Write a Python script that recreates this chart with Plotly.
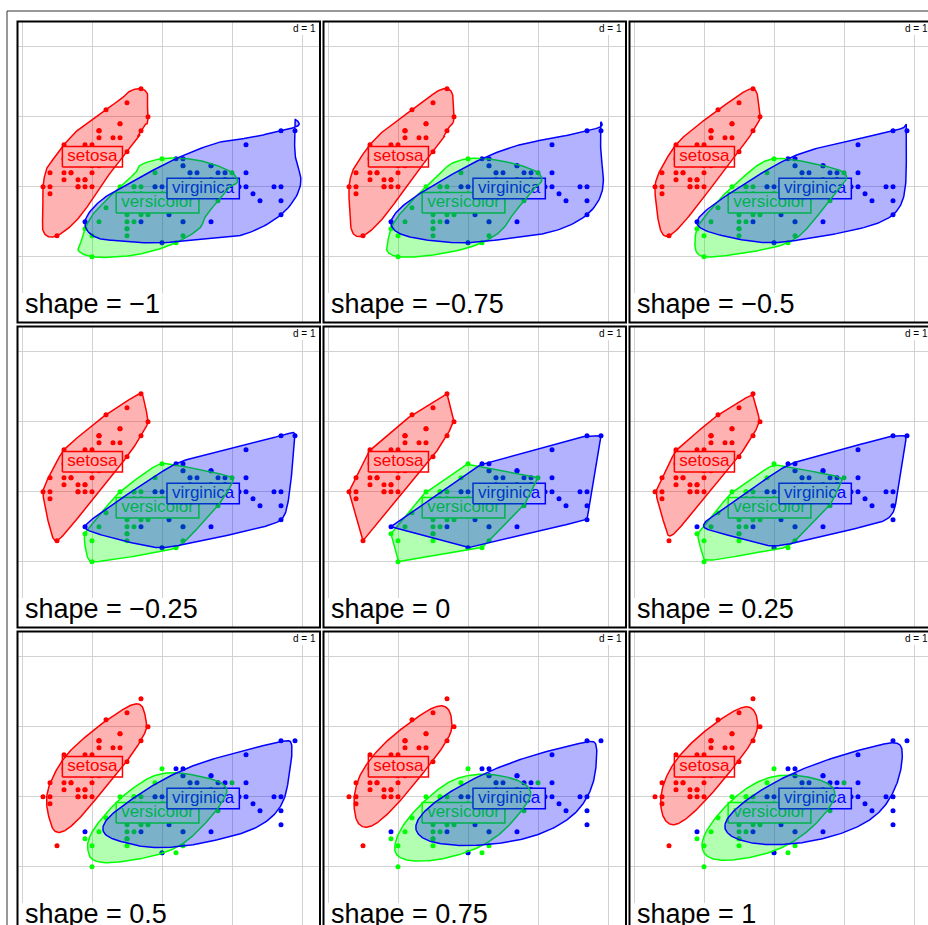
import numpy as np
import plotly.graph_objects as go

# ---------------- data (iris: Sepal.Length, Sepal.Width) ----------------
classes = ["setosa", "versicolor", "virginica"]

setosa_len = [5.1, 4.9, 4.7, 4.6, 5.0, 5.4, 4.6, 5.0, 4.4, 4.9, 5.4, 4.8, 4.8, 4.3, 5.8, 5.7, 5.4, 5.1, 5.7, 5.1,
              5.4, 5.1, 4.6, 5.1, 4.8, 5.0, 5.0, 5.2, 5.2, 4.7, 4.8, 5.4, 5.2, 5.5, 4.9, 5.0, 5.5, 4.9, 4.4, 5.1,
              5.0, 4.5, 4.4, 5.0, 5.1, 4.8, 5.1, 4.6, 5.3, 5.0]
setosa_wid = [3.5, 3.0, 3.2, 3.1, 3.6, 3.9, 3.4, 3.4, 2.9, 3.1, 3.7, 3.4, 3.0, 3.0, 4.0, 4.4, 3.9, 3.5, 3.8, 3.8,
              3.4, 3.7, 3.6, 3.3, 3.4, 3.0, 3.4, 3.5, 3.4, 3.2, 3.1, 3.4, 4.1, 4.2, 3.1, 3.2, 3.5, 3.6, 3.0, 3.4,
              3.5, 2.3, 3.2, 3.5, 3.8, 3.0, 3.8, 3.2, 3.7, 3.3]
versicolor_len = [7.0, 6.4, 6.9, 5.5, 6.5, 5.7, 6.3, 4.9, 6.6, 5.2, 5.0, 5.9, 6.0, 6.1, 5.6, 6.7, 5.6, 5.8, 6.2, 5.6,
                  5.9, 6.1, 6.3, 6.1, 6.4, 6.6, 6.8, 6.7, 6.0, 5.7, 5.5, 5.5, 5.8, 6.0, 5.4, 6.0, 6.7, 6.3, 5.6, 5.5,
                  5.5, 6.1, 5.8, 5.0, 5.6, 5.7, 5.7, 6.2, 5.1, 5.7]
versicolor_wid = [3.2, 3.2, 3.1, 2.3, 2.8, 2.8, 3.3, 2.4, 2.9, 2.7, 2.0, 3.0, 2.2, 2.9, 2.9, 3.1, 3.0, 2.7, 2.2, 2.5,
                  3.2, 2.8, 2.5, 2.8, 2.9, 3.0, 2.8, 3.0, 2.9, 2.6, 2.4, 2.4, 2.7, 2.7, 3.0, 3.4, 3.1, 2.3, 3.0, 2.5,
                  2.6, 3.0, 2.6, 2.3, 2.7, 3.0, 2.9, 2.9, 2.5, 2.8]
virginica_len = [6.3, 5.8, 7.1, 6.3, 6.5, 7.6, 4.9, 7.3, 6.7, 7.2, 6.5, 6.4, 6.8, 5.7, 5.8, 6.4, 6.5, 7.7, 7.7, 6.0,
                 6.9, 5.6, 7.7, 6.3, 6.7, 7.2, 6.2, 6.1, 6.4, 7.2, 7.4, 7.9, 6.4, 6.3, 6.1, 7.7, 6.3, 6.4, 6.0, 6.9,
                 6.7, 6.9, 5.8, 6.8, 6.7, 6.7, 6.3, 6.5, 6.2, 5.9]
virginica_wid = [3.3, 2.7, 3.0, 2.9, 3.0, 3.0, 2.5, 2.9, 2.5, 3.6, 3.2, 2.7, 3.0, 2.5, 2.8, 3.2, 3.0, 3.8, 2.6, 2.2,
                 3.2, 2.8, 2.8, 2.7, 3.3, 3.2, 2.8, 3.0, 2.8, 3.0, 2.8, 3.8, 2.8, 2.8, 2.6, 3.0, 3.4, 3.1, 3.0, 3.1,
                 3.1, 3.1, 2.7, 3.2, 3.3, 3.0, 2.5, 3.0, 3.4, 3.0]

shapes_values = [-1, -0.75, -0.5, -0.25, 0, 0.25, 0.5, 0.75, 1]
shape_labels = ["shape = \u22121", "shape = \u22120.75", "shape = \u22120.5",
                "shape = \u22120.25", "shape = 0", "shape = 0.25",
                "shape = 0.5", "shape = 0.75", "shape = 1"]

class_colors = ["#FF0000", "#00FF00", "#0000FF"]
fill_colors = ["rgba(255,0,0,0.3)", "rgba(0,255,0,0.3)", "rgba(0,0,255,0.3)"]

data_x = [setosa_len, versicolor_len, virginica_len]
data_y = [setosa_wid, versicolor_wid, virginica_wid]

# ---------------- geometry helpers ----------------
def convex_hull(xs, ys):
    pts = sorted(set(zip(xs, ys)))
    if len(pts) <= 2:
        return pts
    def cross(o, a, b):
        return (a[0]-o[0])*(b[1]-o[1]) - (a[1]-o[1])*(b[0]-o[0])
    lower = []
    for p in pts:
        while len(lower) >= 2 and cross(lower[-2], lower[-1], p) <= 0:
            lower.pop()
        lower.append(p)
    upper = []
    for p in reversed(pts):
        while len(upper) >= 2 and cross(upper[-2], upper[-1], p) <= 0:
            upper.pop()
        upper.append(p)
    return lower[:-1] + upper[:-1]

def f_blend(num, den):
    p = 2 * den * den
    u = num / den
    return u**3 * (10 - p + (2*p - 15)*u + (6 - p)*u*u)

def g_blend(u, q):
    return u*(q + u*(2*q + u*(10 - 12*q - 2 + u*(2*2 + 14*q - 15 + u*(6 - 5*q - 2)))))

def h_blend(u, q):
    return u*(q + u*(2*q + u*u*(-2*q - u*q)))

def xspline_closed(hx, hy, s, step=0.02):
    n = len(hx)
    ox, oy = [], []
    for k in range(n):
        idx = [(k-1) % n, k, (k+1) % n, (k+2) % n]
        P = [(hx[i], hy[i]) for i in idx]
        for t in np.arange(0.0, 1.0, step):
            if s < 0:
                q = -s
                A0 = h_blend(-t, q); A2 = g_blend(t, q)
                A1 = g_blend(1 - t, q); A3 = h_blend(t - 1, q)
            else:
                A0 = f_blend(t - s, -1 - s) if t < s else 0.0
                A2 = f_blend(t + s, 1 + s)
                A1 = f_blend(t - 1 - s, -1 - s)
                A3 = f_blend(t - 1 + s, 1 + s) if t > 1 - s else 0.0
            w = A0 + A1 + A2 + A3
            ox.append((A0*P[0][0] + A1*P[1][0] + A2*P[2][0] + A3*P[3][0]) / w)
            oy.append((A0*P[0][1] + A1*P[1][1] + A2*P[2][1] + A3*P[3][1]) / w)
    ox.append(ox[0]); oy.append(oy[0])
    return ox, oy

ARIAL_W = {"s": 500, "e": 556, "t": 278, "o": 556, "a": 556, "v": 500, "r": 333, "i": 222,
           "c": 500, "l": 222, "g": 556, "n": 556, "h": 556, "p": 556, " ": 278, "=": 584,
           "\u2212": 584, "0": 556, "1": 556, "2": 556, "5": 556, "7": 556, ".": 278, "d": 556}

def text_w(txt, size):
    return sum(ARIAL_W.get(ch, 556) for ch in txt) / 1000.0 * size

# ---------------- layout constants (pixels) ----------------
FW, FH = 928, 925
SCALE = 70.0            # pixels per data unit
COL_LEFT = [17.5, 323.5, 629.5]
ROW_TOP = [21.5, 326.5, 631.5]
PW, PH = 302.5, 301.0
X0 = 3.9357             # data x at panel left
Y1 = 5.36               # data y at panel top
FONT = "Liberation Sans, Arial, sans-serif"
SUB_SIZE = 27

fig = go.Figure()
layout_axes = {}
shapes = []
border_shapes = []
annotations = []

hulls = [convex_hull(data_x[c], data_y[c]) for c in range(3)]
cents = [(float(np.mean(data_x[c])), float(np.mean(data_y[c]))) for c in range(3)]

for i, s in enumerate(shapes_values):
    r, c = divmod(i, 3)
    left, top = COL_LEFT[c], ROW_TOP[r]
    right = min(left + PW, FW)
    bottom = min(top + PH, FH)
    xr = [X0, X0 + (right - left) / SCALE]
    yr = [Y1 - (bottom - top) / SCALE, Y1]
    sx = "" if i == 0 else str(i + 1)
    xa, ya = "x" + sx, "y" + sx
    common = dict(showgrid=True, gridcolor="#d2d2d2", gridwidth=1.3, dtick=1, tick0=0,
                  showticklabels=False, zeroline=False, showline=False, ticks="", fixedrange=True)
    layout_axes["xaxis" + sx] = dict(domain=[left / FW, right / FW], range=xr, anchor=ya, **common)
    layout_axes["yaxis" + sx] = dict(domain=[1 - bottom / FH, 1 - top / FH], range=yr, anchor=xa, **common)

    # points first
    for k in range(3):
        fig.add_trace(go.Scatter(x=data_x[k], y=data_y[k], mode="markers",
                                 marker=dict(color=class_colors[k], size=5, line=dict(width=0)),
                                 xaxis=xa, yaxis=ya, hoverinfo="skip"))
    # labels (white boxes) next
    for k in range(3):
        mx, my = cents[k]
        bw = (text_w(classes[k], 17) + 10) / SCALE / 2
        bh = 20.5 / SCALE / 2
        fig.add_trace(go.Scatter(x=[mx - bw, mx + bw, mx + bw, mx - bw, mx - bw],
                                 y=[my - bh, my - bh, my + bh, my + bh, my - bh],
                                 mode="lines", fill="toself", fillcolor="white",
                                 line=dict(color=class_colors[k], width=1.5),
                                 xaxis=xa, yaxis=ya, hoverinfo="skip"))
        fig.add_trace(go.Scatter(x=[mx], y=[my], mode="text", text=[classes[k]],
                                 textposition="middle center",
                                 textfont=dict(family=FONT, size=17, color=class_colors[k]),
                                 xaxis=xa, yaxis=ya, hoverinfo="skip"))
    # translucent hulls on top
    for k in range(3):
        hx = [p[0] for p in hulls[k]]
        hy = [p[1] for p in hulls[k]]
        cx_, cy_ = xspline_closed(hx, hy, s)
        fig.add_trace(go.Scatter(x=cx_, y=cy_, mode="lines", fill="toself",
                                 fillcolor=fill_colors[k],
                                 line=dict(color=class_colors[k], width=1.5),
                                 xaxis=xa, yaxis=ya, hoverinfo="skip"))

    # white box behind subtitle
    lab = shape_labels[i]
    tw = text_w(lab, SUB_SIZE)
    pb = top + PH
    shapes.append(dict(type="rect", xref="paper", yref="paper", layer="above",
                       x0=(left + 1.5) / FW, x1=(left + 10 + tw) / FW,
                       y0=1 - (pb - 1.2) / FH, y1=1 - (pb - 29.5) / FH,
                       fillcolor="white", line=dict(width=0)))
    annotations.append(dict(text=lab, xref="paper", yref="paper",
                            x=(left + 7.7) / FW, y=1 - (pb - 18.4) / FH,
                            xanchor="left", yanchor="middle", showarrow=False,
                            borderpad=0, borderwidth=0,
                            font=dict(family=FONT, size=SUB_SIZE, color="black")))
    # d = 1 box
    pr = left + PW
    shapes.append(dict(type="rect", xref="paper", yref="paper", layer="above",
                       x0=(pr - 30) / FW, x1=(pr - 1.2) / FW,
                       y0=1 - (top + 13.5) / FH, y1=1 - (top + 1.2) / FH,
                       fillcolor="white", line=dict(width=0)))
    annotations.append(dict(text="d = 1", xref="paper", yref="paper",
                            x=(pr - 4.5) / FW, y=1 - (top + 6.8) / FH,
                            xanchor="right", yanchor="middle", showarrow=False,
                            borderpad=0, borderwidth=0,
                            font=dict(family=FONT, size=10, color="black")))
    border_shapes.append(dict(type="rect", xref="paper", yref="paper", layer="above",
                              x0=left / FW, x1=(left + PW) / FW,
                              y0=1 - (top + PH) / FH, y1=1 - top / FH,
                              line=dict(color="black", width=2), fillcolor="rgba(0,0,0,0)"))

outer = dict(type="rect", xref="paper", yref="paper", layer="above",
             x0=7 / FW, x1=1.05, y0=1 - 11 / FH, y1=-0.05,
             line=dict(color="#333333", width=1), fillcolor="rgba(0,0,0,0)")

fig.update_layout(width=FW, height=FH, margin=dict(l=0, r=0, t=0, b=0),
                  paper_bgcolor="white", plot_bgcolor="white", showlegend=False,
                  shapes=shapes + border_shapes + [outer], annotations=annotations,
                  **layout_axes)

fig.write_html("out.html", config={"displayModeBar": False})

# remove default page margins so the figure sits at the window's top-left corner
with open("out.html", "r", encoding="utf-8") as fh:
    html = fh.read()
html = html.replace("<head>", "<head><style>html,body{margin:0;padding:0;overflow:hidden;}</style>", 1)
with open("out.html", "w", encoding="utf-8") as fh:
    fh.write(html)
